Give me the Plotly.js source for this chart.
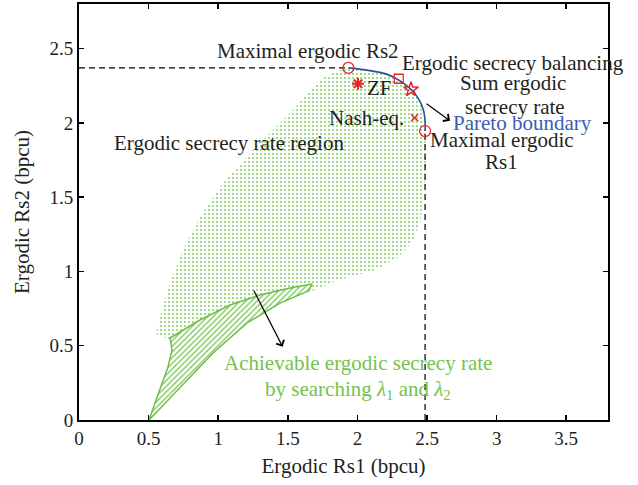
<!DOCTYPE html>
<html>
<head>
<meta charset="utf-8">
<script src="https://cdn.plot.ly/plotly-3.0.1.min.js"></script>
<style>html,body{margin:0;padding:0;background:#fff;}#chart{width:638px;height:485px;}</style>
</head>
<body>
<div id="chart"></div>
<script>
// Outline of the achievable ergodic secrecy rate region
const regionX = [0.503,0.726,0.963,1.207,1.444,1.652,1.667,1.681,1.825,1.947,2.126,2.285,2.39,2.452,2.478,2.493,2.486,
                 2.486,2.474,2.437,2.378,2.306,2.21,2.067,1.935,1.84,1.731,1.645,1.537,1.25,1.034,0.869,0.747,0.654,0.582,0.553,
                 0.654,0.668,0.639,0.596,0.546,0.503];
const regionY = [0,0.222,0.451,0.653,0.787,0.87,0.905,0.868,0.929,0.962,1.009,1.09,1.191,1.332,1.514,1.75,1.945,
                 2.007,2.086,2.165,2.232,2.283,2.328,2.355,2.37,2.345,2.288,2.2,2.086,1.817,1.595,1.366,1.144,0.922,0.695,0.583,
                 0.538,0.471,0.357,0.249,0.114,0];
// Dense (solid-line) band near the lower boundary
const bandX = [0.503,0.726,0.963,1.207,1.444,1.652,1.674,1.516,1.3,1.085,0.869,0.654,0.668,0.639,0.596,0.546,0.503];
const bandY = [0,0.222,0.451,0.653,0.787,0.87,0.915,0.888,0.841,0.774,0.673,0.552,0.471,0.357,0.249,0.114,0];
// Pareto boundary
const paretoX = [1.935,2.067,2.21,2.306,2.378,2.437,2.474,2.486,2.486];
const paretoY = [2.37,2.355,2.328,2.283,2.232,2.165,2.086,2.007,1.945];
// Special points
const maxPointsX = [1.935,2.486];
const maxPointsY = [2.37,1.945];
const balancingX = [2.297], balancingY = [2.297];
const sumRateX = [2.385], sumRateY = [2.225];
const zfX = [2.004], zfY = [2.263];
const nashX = [2.411], nashY = [2.034];
// Guide lines
const hLineX = [0,1.935], hLineY = [2.37,2.37];
const vLineX = [2.486,2.486], vLineY = [0,1.945];

const red = '#e8262a';
const green = '#74c34c';
const fontFam = 'Liberation Serif, DejaVu Serif, serif';
const txtColor = '#231f20';
const fs = 21;

const traces = [
  {x: regionX, y: regionY, mode: 'lines', fill: 'toself', line: {width: 0, color: green},
   fillcolor: 'rgba(255,255,255,0)',
   fillpattern: {shape: '.', fgcolor: '#86cf62', bgcolor: 'rgba(255,255,255,0)', size: 4, solidity: 0.2},
   hoverinfo: 'skip', showlegend: false},
  {x: bandX, y: bandY, mode: 'lines', fill: 'toself', line: {width: 1.5, color: '#6cbf45'},
   fillcolor: '#ffffff',
   fillpattern: {shape: '/', fgcolor: '#72c24b', bgcolor: '#ffffff', size: 4, solidity: 0.3},
   hoverinfo: 'skip', showlegend: false},
  {x: hLineX, y: hLineY, mode: 'lines', line: {color: '#000', width: 1.2, dash: '6px,4px'}, showlegend: false},
  {x: vLineX, y: vLineY, mode: 'lines', line: {color: '#000', width: 1.2, dash: '6px,4px'}, showlegend: false},
  {x: paretoX, y: paretoY, mode: 'lines', line: {color: '#2a4fa0', width: 1.6, shape: 'spline'}, showlegend: false},
  {x: maxPointsX, y: maxPointsY, mode: 'markers', marker: {symbol: 'circle-open', size: 11, color: red, line: {width: 1.3, color: red}}, showlegend: false},
  {x: balancingX, y: balancingY, mode: 'markers', marker: {symbol: 'square-open', size: 9, color: red, line: {width: 1.3, color: red}}, showlegend: false},
  {x: sumRateX, y: sumRateY, mode: 'markers', marker: {symbol: 'star-open', size: 11, color: red, line: {width: 1.5, color: red}}, showlegend: false},
  {x: zfX, y: zfY, mode: 'markers', marker: {symbol: 'asterisk-open', size: 10, color: red, line: {width: 2, color: red}}, showlegend: false},
  {x: nashX, y: nashY, mode: 'markers', marker: {symbol: 'x-thin-open', size: 7, color: red, line: {width: 1.5, color: red}}, showlegend: false}
];

const txt = (x, y, text, opts) => Object.assign({x, y, xref: 'x', yref: 'y', text, showarrow: false,
  font: {family: fontFam, size: fs, color: txtColor}, xanchor: 'center', yanchor: 'middle'}, opts || {});

const annotations = [
  txt(1.642, 2.485, 'Maximal ergodic Rs2'),
  txt(2.306, 2.40, 'Ergodic secrecy balancing', {xanchor: 'left'}),
  txt(3.118, 2.266, 'Sum ergodic'),
  txt(3.132, 2.108, 'secrecy rate'),
  txt(2.055, 2.232, 'ZF', {xanchor: 'left'}),
  txt(2.349, 2.03, 'Nash-eq.', {xanchor: 'right'}),
  txt(2.672, 2.0, 'Pareto boundary', {xanchor: 'left', font: {family: fontFam, size: fs, color: '#3a5cb4'}}),
  txt(3.039, 1.884, 'Maximal ergodic'),
  txt(3.032, 1.738, 'Rs1'),
  txt(1.078, 1.862, 'Ergodic secrecy rate region'),
  txt(2.004, 0.384, 'Achievable ergodic secrecy rate', {font: {family: fontFam, size: fs, color: green}}),
  txt(2.004, 0.2, 'by searching <i>λ</i><sub>1</sub> and <i>λ</i><sub>2</sub>', {font: {family: fontFam, size: fs, color: green}}),
  {x: 2.665, y: 2.014, ax: 2.486, ay: 2.136, xref: 'x', yref: 'y', axref: 'x', ayref: 'y', text: '', showarrow: true,
   arrowhead: 4, arrowsize: 1.4, arrowwidth: 1.2, arrowcolor: '#000'},
  {x: 1.463, y: 0.493, ax: 1.25, ay: 0.882, xref: 'x', yref: 'y', axref: 'x', ayref: 'y', text: '', showarrow: true,
   arrowhead: 4, arrowsize: 1.4, arrowwidth: 1.2, arrowcolor: '#000'}
];

const axisCommon = {showgrid: false, zeroline: false, showline: true, linecolor: '#000', linewidth: 2,
  mirror: 'ticks', ticks: 'inside', ticklen: 5, tickwidth: 1.5, tickcolor: '#000',
  tickfont: {family: fontFam, size: 19, color: txtColor}, dtick: 0.5};

const layout = {
  width: 638, height: 485,
  margin: {l: 79, r: 30, t: 4, b: 65},
  paper_bgcolor: '#fff', plot_bgcolor: '#fff',
  font: {family: fontFam, size: 19, color: txtColor},
  xaxis: Object.assign({}, axisCommon, {range: [0, 3.8], tick0: 0,
    title: {text: 'Ergodic Rs1 (bpcu)', font: {family: fontFam, size: 21, color: txtColor}, standoff: 11}}),
  yaxis: Object.assign({}, axisCommon, {range: [0, 2.8], tick0: 0,
    title: {text: 'Ergodic Rs2 (bpcu)', font: {family: fontFam, size: 21, color: txtColor}, standoff: 14}}),
  annotations: annotations,
  showlegend: false
};

Plotly.newPlot('chart', traces, layout, {displayModeBar: false, staticPlot: true});
</script>
</body>
</html>
